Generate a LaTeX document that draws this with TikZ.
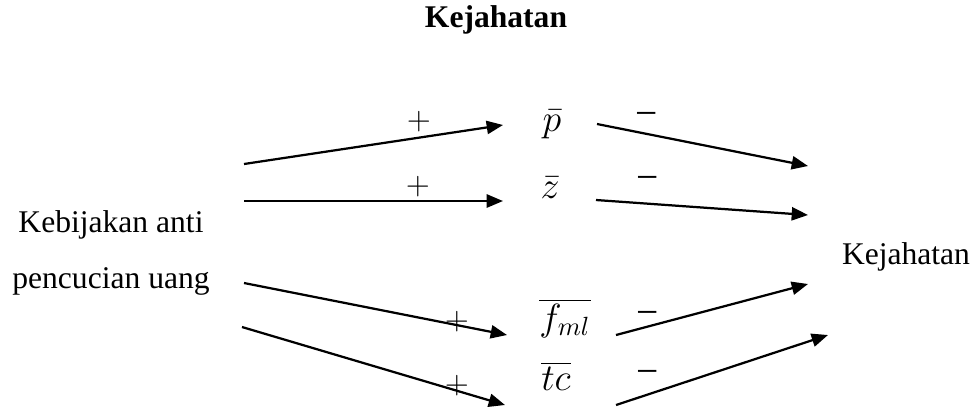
\documentclass[tikz,border=0pt]{standalone}
\usepackage{fontspec}
\setmainfont{Liberation Serif}
\usetikzlibrary{arrows.meta}
\begin{document}
\begin{tikzpicture}[x=0.38pt,y=-0.38pt,
  txt/.style={font=\fontsize{12}{21}\selectfont, inner sep=0pt},
  var/.style={font=\fontsize{14}{16}\selectfont, inner sep=0pt},
  sign/.style={font=\fontsize{12}{14.4}\selectfont, inner sep=0pt},
  msign/.style={font=\fontsize{15}{16}\selectfont, inner sep=0pt},
  conn/.style={line width=0.85pt, -{Triangle[length=6.2pt,width=5pt]}}]
\useasboundingbox (0,0) rectangle (974,412);
% texts
\node[txt, font=\fontsize{12}{14.4}\selectfont\bfseries] (title) at (496,20) {Kejahatan};
\node[txt, align=center] (src) at (111,253) {Kebijakan anti\\pencucian uang};
\node[txt] (dst) at (906,257) {Kejahatan};
\node[var] (p) at (552,124) {$\bar{p}$};
\node[var] (z) at (550,188) {$\bar{z}$};
\node[var] (f) at (565,318) {$\overline{f_{ml}}$};
\node[var] (tc) at (556,376) {$\overline{tc}$};
% connector ends
\coordinate (l1s) at (244,164); \coordinate (l1e) at (503,125);
\coordinate (l2s) at (244,201); \coordinate (l2e) at (503,201);
\coordinate (l3s) at (244,283); \coordinate (l3e) at (507,335);
\coordinate (l4s) at (242,327); \coordinate (l4e) at (505,405);
\coordinate (r1s) at (597,124); \coordinate (r1e) at (808,166);
\coordinate (r2s) at (596,200); \coordinate (r2e) at (808,215);
\coordinate (r3s) at (616,335); \coordinate (r3e) at (808,284);
\coordinate (r4s) at (616,405); \coordinate (r4e) at (828,335);
% connectors
\draw[conn] (l1s) -- (l1e);
\draw[conn] (l2s) -- (l2e);
\draw[conn] (l3s) -- (l3e);
\draw[conn] (l4s) -- (l4e);
\draw[conn] (r1s) -- (r1e);
\draw[conn] (r2s) -- (r2e);
\draw[conn] (r3s) -- (r3e);
\draw[conn] (r4s) -- (r4e);
% signs
\node[sign] (pl1) at (419,122) {$+$};
\node[sign] (pl2) at (418,187) {$+$};
\node[sign] (pl3) at (457,322) {$+$};
\node[sign] (pl4) at (457,386) {$+$};
\node[msign] (mi1) at (647,119) {−};
\node[msign] (mi2) at (648,183) {−};
\node[msign] (mi3) at (648,318) {−};
\node[msign] (mi4) at (648,377) {−};
\end{tikzpicture}
\end{document}
